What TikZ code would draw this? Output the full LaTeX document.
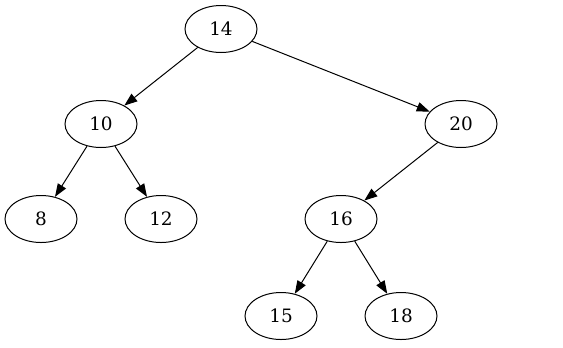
\documentclass[tikz,border=0pt]{standalone}
\usepackage{fontspec}
\setmainfont{DejaVu Serif}
\usetikzlibrary{arrows.meta,shapes.geometric}

\begin{document}
\begin{tikzpicture}[x=1bp, y=-1bp, line width=1bp,
    key/.style={draw, ellipse, minimum width=72bp, minimum height=47bp, inner sep=0pt,
        font=\fontsize{18.5}{20}\selectfont},
    edge/.style={-{Triangle[length=13bp, width=9.5bp]}}]
    \useasboundingbox (0,0) rectangle (563,347);
    \node[key] (n14) at (221,29) {14};
    \node[key] (n10) at (101,124) {10};
    \node[key] (n20) at (461,124) {20};
    \node[key] (n8) at (41,219) {8};
    \node[key] (n12) at (161,219) {12};
    \node[key] (n16) at (341,219) {16};
    \node[key] (n15) at (281,316) {15};
    \node[key] (n18) at (401,316) {18};
    \foreach \a/\b in {n14/n10, n14/n20, n10/n8, n10/n12, n20/n16, n16/n15, n16/n18} {
        \draw[edge] (\a) -- (\b);
    }
\end{tikzpicture}
\end{document}
